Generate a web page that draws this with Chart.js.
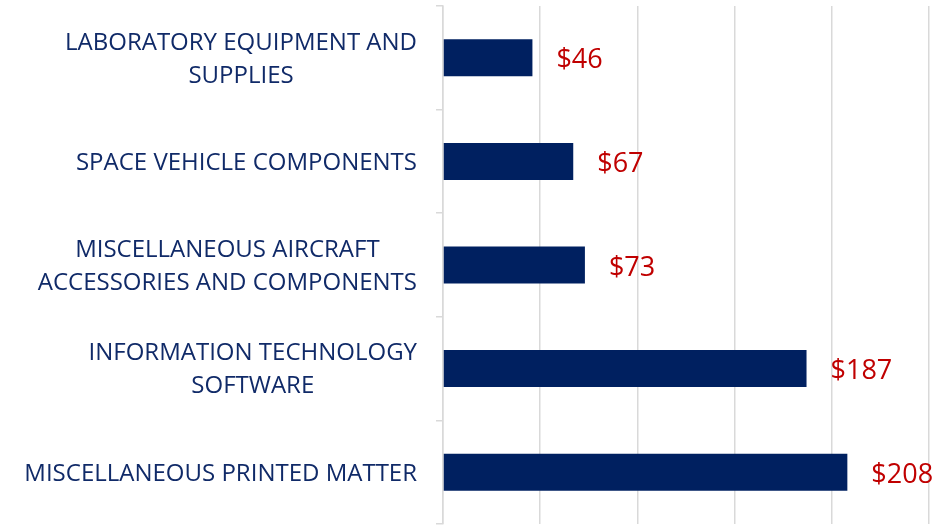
<!DOCTYPE html>
<html lang="en">
<head>
  <meta charset="UTF-8">
  <title>Top Categories</title>
  <script src="https://cdn.jsdelivr.net/npm/chart.js@4.4.0/dist/chart.umd.min.js"></script>
  <style>
    html, body { margin: 0; padding: 0; background: #fff; }
    #wrap { width: 942px; height: 530px; position: relative; }
  </style>
</head>
<body>
  <div id="wrap"><canvas id="bars"></canvas></div>

  <script>
    // Category labels (one array of lines per category)
    const categories = [
      ['LABORATORY EQUIPMENT AND', 'SUPPLIES'],
      ['SPACE VEHICLE COMPONENTS'],
      ['MISCELLANEOUS AIRCRAFT', 'ACCESSORIES AND COMPONENTS'],
      ['INFORMATION TECHNOLOGY', 'SOFTWARE'],
      ['MISCELLANEOUS PRINTED MATTER']
    ];
    // Spend values ($)
    const values = [46, 67, 73, 187, 208];
    // Value axis ticks (hidden, only gridlines shown)
    const xTicks = [0, 50, 100, 150, 200, 250];

    const FONT = "'Open Sans', 'Noto Sans', sans-serif";
    const NAVY = '#002060';
    const LABEL_NAVY = '#102A68';
    const RED = '#C00000';
    const GRID = '#D9D9D9';

    // Excel-style category labels: block right-aligned, lines centered inside block
    const categoryLabels = {
      id: 'categoryLabels',
      afterDraw(chart) {
        const ctx = chart.ctx;
        const y = chart.scales.y;
        const rightEdge = y.right - 26;
        const lineH = 33;
        ctx.save();
        ctx.font = '24px ' + FONT;
        ctx.fillStyle = LABEL_NAVY;
        ctx.textAlign = 'center';
        ctx.textBaseline = 'middle';
        categories.forEach((lines, i) => {
          const yc = y.getPixelForValue(i) + 1.5;
          const w = Math.max(...lines.map(l => ctx.measureText(l).width));
          const cx = rightEdge - w / 2;
          lines.forEach((line, j) => {
            ctx.fillText(line, cx, yc + (j - (lines.length - 1) / 2) * lineH);
          });
        });
        ctx.restore();
      }
    };

    // Red dollar labels to the right of each bar
    const valueLabels = {
      id: 'valueLabels',
      afterDatasetsDraw(chart) {
        const ctx = chart.ctx;
        const meta = chart.getDatasetMeta(0);
        ctx.save();
        ctx.font = '27px ' + FONT;
        ctx.fillStyle = RED;
        ctx.textAlign = 'left';
        ctx.textBaseline = 'middle';
        meta.data.forEach((bar, i) => {
          ctx.fillText('$' + values[i], bar.x + 24, bar.y + 3);
        });
        ctx.restore();
      }
    };

    const ctx = document.getElementById('bars').getContext('2d');
    new Chart(ctx, {
      type: 'bar',
      data: {
        labels: categories,
        datasets: [{
          data: values,
          backgroundColor: NAVY,
          borderWidth: 0,
          categoryPercentage: 1,
          barPercentage: 0.357
        }]
      },
      options: {
        indexAxis: 'y',
        responsive: true,
        maintainAspectRatio: false,
        animation: false,
        layout: { padding: { top: 6, bottom: 6, right: 13, left: 0 } },
        plugins: {
          legend: { display: false },
          tooltip: { enabled: false }
        },
        scales: {
          x: {
            min: 0,
            max: 250,
            afterBuildTicks: scale => { scale.ticks = xTicks.map(v => ({ value: v })); },
            ticks: { display: false },
            grid: { color: GRID, lineWidth: 1.5, drawTicks: false },
            border: { display: false }
          },
          y: {
            ticks: { display: false },
            grid: { offset: true, drawOnChartArea: false, color: GRID, lineWidth: 1.5, tickLength: 7 },
            border: { color: GRID, width: 1.5 },
            afterFit: scale => { scale.width = 443; }
          }
        }
      },
      plugins: [categoryLabels, valueLabels]
    });
  </script>
</body>
</html>
